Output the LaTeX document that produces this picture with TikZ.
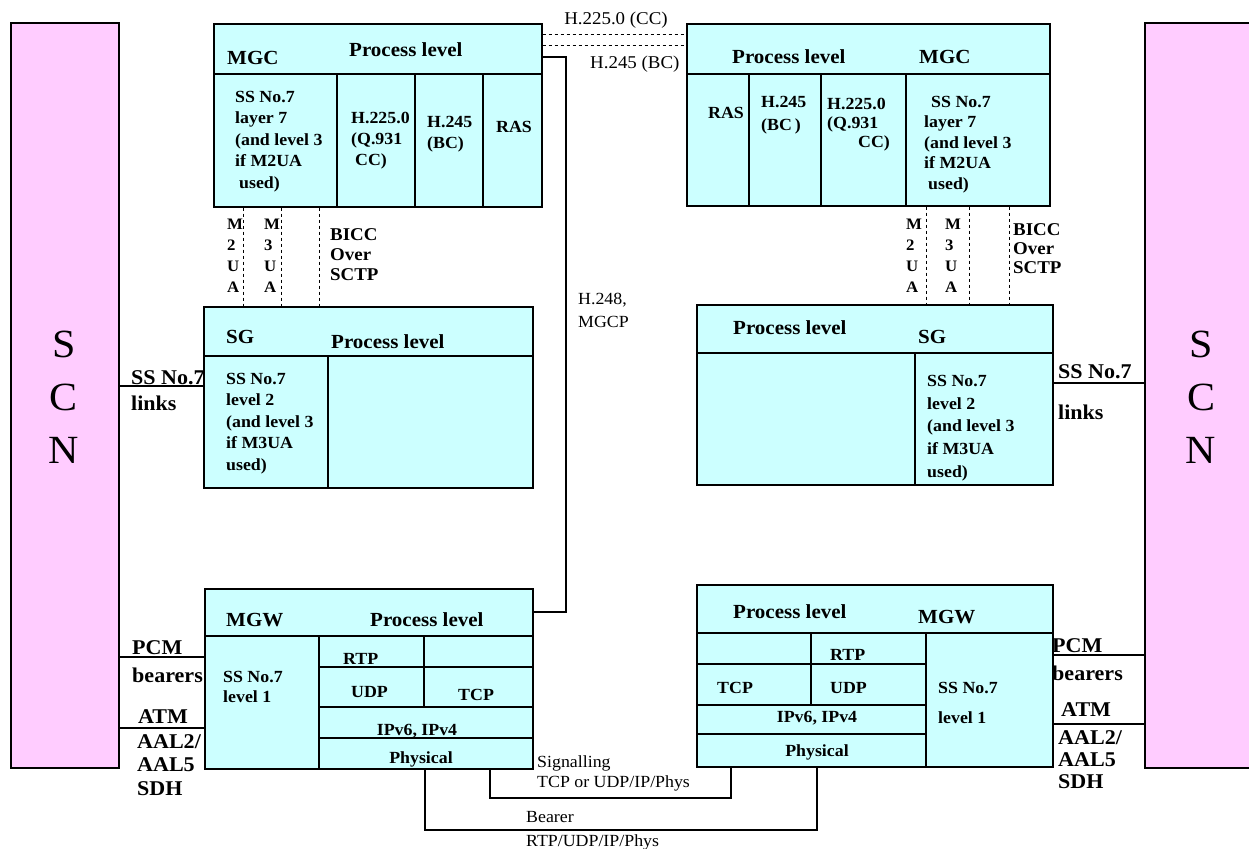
\documentclass[tikz,border=0pt]{standalone}
\usepackage{fontspec}
\setmainfont{Liberation Serif}[FakeStretch=1.05]
\newcommand\fsz[2]{\fontsize{#1}{#2}\selectfont}
\definecolor{boxcyan}{HTML}{CCFFFF}
\definecolor{scnpink}{HTML}{FFCCFF}
\tikzset{
  box/.style={draw=black, line width=1.6pt, fill=boxcyan, inner sep=0pt, anchor=north west},
  scnbox/.style={draw=black, line width=1.6pt, fill=scnpink, inner sep=0pt, anchor=north west},
  part/.style={line width=1.4pt},
  conn/.style={line width=1.2pt},
  sigdash/.style={line width=1pt, dash pattern=on 3.5pt off 2.5pt},
  hdr/.style={inner sep=0pt, anchor=west, font=\bfseries\fsz{20}{24}},
  cell/.style={inner sep=0pt, anchor=north west, align=left, font=\bfseries\fsz{17}{21.5}},
  cellc/.style={inner sep=0pt, anchor=center, font=\bfseries\fsz{17}{21}},
  tag/.style={inner sep=0pt, anchor=west, font=\bfseries\fsz{17}{21}},
  lbl/.style={inner sep=0pt, anchor=west, font=\bfseries\fsz{21}{26}},
  ua/.style={inner sep=0pt, anchor=north west, align=left, font=\bfseries\fsz{16}{21}},
  plain/.style={inner sep=0pt, anchor=west, font=\fsz{17}{21}},
  scntxt/.style={inner sep=0pt, align=center, font=\fsz{40}{53}},
}
\begin{document}
\begin{tikzpicture}[x=1pt, y=-1pt]
\clip (0,0) rectangle (1249,848);
\fill[white] (0,0) rectangle (1249,848);

% ---------- SCN networks ----------
\node[scnbox, minimum width=108pt, minimum height=745pt] (scnL) at (10,22) {};
\node[scnbox, minimum width=120pt, minimum height=745pt] (scnR) at (1144,22) {};
\node[scntxt] (scnLt) at (64,397) {S\\C\\N};
\node[scntxt] (scnRt) at (1201,397) {S\\C\\N};

% ---------- MGC (left) ----------
\node[box, minimum width=328pt, minimum height=183pt] (mgcL) at (213,23) {};
\draw[part] (213,74) -- (541,74);
\draw[part] (337,74) -- (337,206) (415,74) -- (415,206) (483,74) -- (483,206);
\node[hdr] (mgcLa) at (227,58) {MGC};
\node[hdr] (mgcLb) at (349,50) {Process level};
\node[cell] (mgcLc) at (235,91) {SS No.7\\layer 7\\(and level 3\\if M2UA\\\hspace{4pt}used)};
\node[cell, font=\bfseries\fsz{17}{21}] (mgcLd) at (351,112) {H.225.0\\(Q.931\\\hspace{4pt}CC)};
\node[cell, font=\bfseries\fsz{17}{21}] (mgcLe) at (427,116) {H.245\\(BC)};
\node[tag] (mgcLf) at (496,127) {RAS};

% ---------- MGC (right) ----------
\node[box, minimum width=363pt, minimum height=182pt] (mgcR) at (686,23) {};
\draw[part] (686,74) -- (1049,74);
\draw[part] (749,74) -- (749,205) (821,74) -- (821,205) (906,74) -- (906,205);
\node[hdr] (mgcRa) at (732,57) {Process level};
\node[hdr] (mgcRb) at (919,57) {MGC};
\node[tag] (mgcRc) at (708,113) {RAS};
\node[cell, font=\bfseries\fsz{17}{23}] (mgcRd) at (761,96) {H.245\\(BC\,)};
\node[cell, font=\bfseries\fsz{17}{19}] (mgcRe) at (827,98) {H.225.0\\(Q.931\\\hspace{31pt}CC)};
\node[cell, font=\bfseries\fsz{17}{20.5}] (mgcRf) at (924,96) {\hspace{7pt}SS No.7\\layer 7\\(and level 3\\if M2UA\\\hspace{4pt}used)};

% ---------- SG (left) ----------
\node[box, minimum width=329pt, minimum height=181pt] (sgL) at (203,306) {};
\draw[part] (203,356) -- (532,356);
\draw[part] (328,356) -- (328,487);
\node[hdr] (sgLa) at (226,337) {SG};
\node[hdr] (sgLb) at (331,342) {Process level};
\node[cell] (sgLc) at (226,373) {SS No.7\\level 2\\(and level 3\\if M3UA\\used)};

% ---------- SG (right) ----------
\node[box, minimum width=356pt, minimum height=180pt] (sgR) at (696,304) {};
\draw[part] (696,353) -- (1052,353);
\draw[part] (915,353) -- (915,484);
\node[hdr] (sgRa) at (733,328) {Process level};
\node[hdr] (sgRb) at (918,337) {SG};
\node[cell, font=\bfseries\fsz{17}{22.7}] (sgRc) at (927,375) {SS No.7\\level 2\\(and level 3\\if M3UA\\used)};

% ---------- MGW (left) ----------
\node[box, minimum width=328pt, minimum height=180pt] (mgwL) at (204,588) {};
\draw[part] (204,636) -- (532,636);
\draw[part] (319,636) -- (319,768);
\draw[part] (424,636) -- (424,707);
\draw[part] (319,667) -- (532,667) (319,707) -- (532,707) (319,738) -- (532,738);
\node[hdr] (mgwLa) at (226,620) {MGW};
\node[hdr] (mgwLb) at (370,620) {Process level};
\node[tag] (mgwLc) at (343,659) {RTP};
\node[tag] (mgwLd) at (351,692) {UDP};
\node[tag] (mgwLe) at (458,695) {TCP};
\node[cellc] (mgwLf) at (417,731) {IPv6, IPv4};
\node[cellc] (mgwLg) at (421,759) {Physical};
\node[cell, font=\bfseries\fsz{17}{20}] (mgwLh) at (223,671) {SS No.7\\level 1};

% ---------- MGW (right) ----------
\node[box, minimum width=356pt, minimum height=182pt] (mgwR) at (696,584) {};
\draw[part] (696,633) -- (1052,633);
\draw[part] (926,633) -- (926,766);
\draw[part] (811,633) -- (811,705);
\draw[part] (696,664) -- (926,664) (696,705) -- (926,705) (696,734) -- (926,734);
\node[hdr] (mgwRa) at (733,612) {Process level};
\node[hdr] (mgwRb) at (918,617) {MGW};
\node[tag] (mgwRc) at (830,655) {RTP};
\node[tag] (mgwRd) at (717,688) {TCP};
\node[tag] (mgwRe) at (830,688) {UDP};
\node[cellc] (mgwRf) at (817,718) {IPv6, IPv4};
\node[cellc] (mgwRg) at (817,752) {Physical};
\node[tag] (mgwRh) at (938,688) {SS No.7};
\node[tag] (mgwRi) at (938,718) {level 1};

% ---------- signalling transport between MGC and SG ----------
\draw[sigdash] (mgcL.south -| 243,0) -- (sgL.north -| 243,0);
\draw[sigdash] (mgcL.south -| 281,0) -- (sgL.north -| 281,0);
\draw[sigdash] (mgcL.south -| 319,0) -- (sgL.north -| 319,0);
\node[ua] (uaL1) at (227,219) {M\\2\\U\\A};
\node[ua] (uaL2) at (264,219) {M\\3\\U\\A};
\node[ua, font=\bfseries\fsz{18}{20}] (uaL3) at (330,228) {BICC\\Over\\SCTP};

\draw[sigdash] (mgcR.south -| 926,0) -- (sgR.north -| 926,0);
\draw[sigdash] (mgcR.south -| 969,0) -- (sgR.north -| 969,0);
\draw[sigdash] (mgcR.south -| 1009,0) -- (sgR.north -| 1009,0);
\node[ua] (uaR1) at (906,219) {M\\2\\U\\A};
\node[ua] (uaR2) at (945,219) {M\\3\\U\\A};
\node[ua, font=\bfseries\fsz{18}{19}] (uaR3) at (1013,223) {BICC\\Over\\SCTP};

% ---------- MGC to MGC ----------
\draw[sigdash] (mgcL.east |- 0,35) -- (mgcR.west |- 0,35);
\draw[sigdash] (mgcL.east |- 0,46) -- (mgcR.west |- 0,46);
\node[plain, anchor=center, font=\fsz{18}{22}] (h225) at (616,20) {H.225.0 (CC)};
\node[plain, font=\fsz{18}{22}] (h245) at (590,64) {H.245 (BC)};

% ---------- MGC to MGW control ----------
\coordinate (ctlA) at (566,57);
\coordinate (ctlB) at (566,612);
\draw[conn] (mgcL.east |- ctlA) -- (ctlA) -- (ctlB) -- (mgwL.east |- ctlB);
\node[plain] (h248a) at (578,300) {H.248,};
\node[plain] (h248b) at (578,322) {MGCP};

% ---------- SCN links ----------
\coordinate (lkL) at (0,386);
\coordinate (pcmL) at (0,657);
\coordinate (atmL) at (0,728);
\draw[conn] (lkL -| scnL.east) -- (lkL -| sgL.west);
\draw[conn] (pcmL -| scnL.east) -- (pcmL -| mgwL.west);
\draw[conn] (atmL -| scnL.east) -- (atmL -| mgwL.west);
\node[lbl] (lkLa) at (131,378) {SS No.7};
\node[lbl] (lkLb) at (131,403) {links};
\node[lbl] (pcmLa) at (132,648) {PCM};
\node[lbl] (pcmLb) at (132,675) {bearers};
\node[lbl] (atmLa) at (138,717) {ATM};
\node[lbl] (atmLb) at (137,742) {AAL2/};
\node[lbl] (atmLc) at (137,765) {AAL5};
\node[lbl] (atmLd) at (137,789) {SDH};

\coordinate (lkR) at (0,383);
\coordinate (pcmR) at (0,655);
\coordinate (atmR) at (0,724);
\draw[conn] (lkR -| sgR.east) -- (lkR -| scnR.west);
\draw[conn] (pcmR -| mgwR.east) -- (pcmR -| scnR.west);
\draw[conn] (atmR -| mgwR.east) -- (atmR -| scnR.west);
\node[lbl] (lkRa) at (1058,372) {SS No.7};
\node[lbl] (lkRb) at (1058,412) {links};
\node[lbl] (pcmRa) at (1052,646) {PCM};
\node[lbl] (pcmRb) at (1052,673) {bearers};
\node[lbl] (atmRa) at (1061,710) {ATM};
\node[lbl] (atmRb) at (1058,738) {AAL2/};
\node[lbl] (atmRc) at (1058,760) {AAL5};
\node[lbl] (atmRd) at (1058,782) {SDH};

% ---------- MGW to MGW ----------
\coordinate (sgA) at (490,798);
\coordinate (sgB) at (731,798);
\draw[conn] (mgwL.south -| sgA) -- (sgA) -- (sgB) -- (mgwR.south -| sgB);
\node[plain] (sigA) at (537,763) {Signalling};
\node[plain] (sigB) at (537,783) {TCP or UDP/IP/Phys};

\coordinate (brA) at (425,830);
\coordinate (brB) at (817,830);
\draw[conn] (mgwL.south -| brA) -- (brA) -- (brB) -- (mgwR.south -| brB);
\node[plain] (brrA) at (526,817) {Bearer};
\node[plain] (brrB) at (526,842) {RTP/UDP/IP/Phys};
\end{tikzpicture}
\end{document}
